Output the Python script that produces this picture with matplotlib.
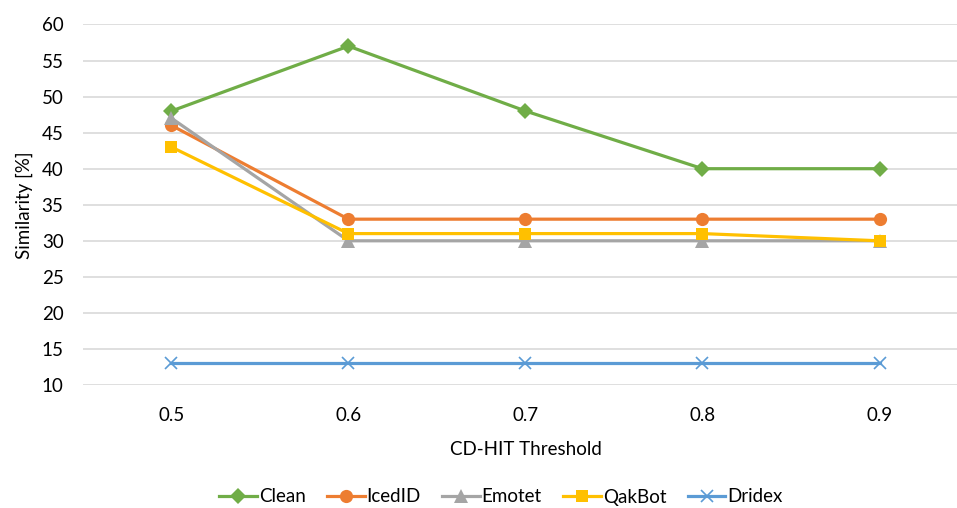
import numpy as np
import matplotlib
matplotlib.use("Agg")
import matplotlib.pyplot as plt

plt.rcParams['font.family'] = ['Lato', 'DejaVu Sans']

thresholds = ["0.5", "0.6", "0.7", "0.8", "0.9"]
clean = [48, 57, 48, 40, 40]
icedid = [46, 33, 33, 33, 33]
emotet = [47, 30, 30, 30, 30]
qakbot = [43, 31, 31, 31, 30]
dridex = [13, 13, 13, 13, 13]

series = [
    ("Clean", clean, "#70AD47", "D", 8),
    ("IcedID", icedid, "#ED7D31", "o", 9.5),
    ("Emotet", emotet, "#A5A5A5", "^", 9.5),
    ("QakBot", qakbot, "#FFC000", "s", 9),
    ("Dridex", dridex, "#5B9BD5", "x", 9),
]

fig = plt.figure(figsize=(9.57, 5.08), dpi=100)
ax = fig.add_axes([0.0867, 0.2421, 0.9248, 0.7097])

x = np.arange(len(thresholds))
for name, vals, color, marker, ms in series:
    kw = dict(markeredgecolor=color, markerfacecolor=color)
    if marker == "x":
        kw["markeredgewidth"] = 1.2
    else:
        kw["markeredgewidth"] = 0
    ax.plot(x, vals, color=color, lw=2.3, marker=marker, ms=ms,
            label=name, solid_joinstyle="round", **kw)

ax.set_xlim(-0.5, len(thresholds) - 0.5)
ax.set_ylim(10, 60)
ax.set_yticks(np.arange(10, 61, 5))
ax.set_xticks(x)
ax.set_xticklabels(thresholds)
ax.grid(axis="y", color="#D9D9D9", lw=1.2)
ax.set_axisbelow(True)
for s in ax.spines.values():
    s.set_visible(False)
ax.tick_params(length=0, labelsize=13.5, colors="#000000")
ax.tick_params(axis="x", pad=16)
ax.tick_params(axis="y", pad=14)

ax.set_xlabel("CD-HIT Threshold", fontsize=13.5, labelpad=12)
ax.set_ylabel("Similarity [%]", fontsize=13.5, labelpad=6)

fig.legend(loc="center", bbox_to_anchor=(0.5235, 1 - 497 / 508), ncol=5,
           frameon=False, fontsize=13.5, handlelength=2.0, handletextpad=0.1,
           columnspacing=1.15)

fig.savefig("out.png", dpi=100)
